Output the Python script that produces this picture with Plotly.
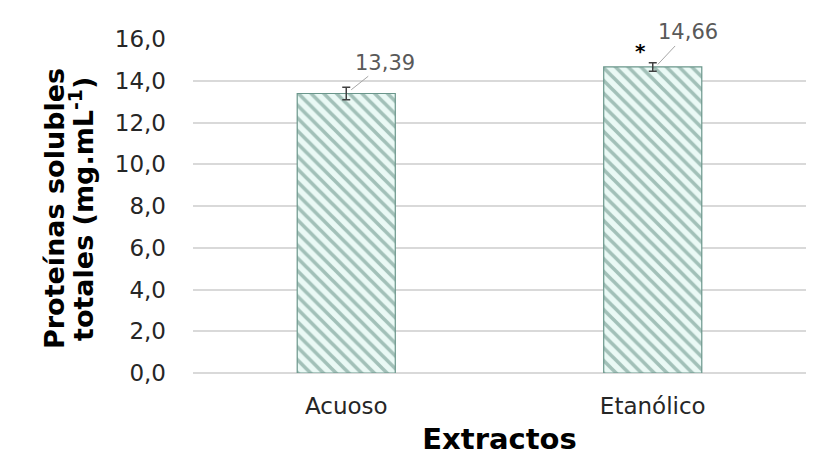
import plotly.graph_objects as go

categories = ["Acuoso", "Etanólico"]
values = [13.39, 14.66]
errors = [0.30, 0.20]
value_labels = ["13,39", "14,66"]
significance = ["", "*"]
y_ticks = [0, 2, 4, 6, 8, 10, 12, 14, 16]
y_title_lines = ["Proteínas solubles", "totales (mg.mL<sup>-1</sup>)"]

FONT = "DejaVu Sans"
fig = go.Figure()
fig.add_trace(go.Bar(
    x=categories, y=values,
    width=0.32,
    marker=dict(
        color="#eaf9f5",
        line=dict(color="#6a968b", width=1.2),
        pattern=dict(shape="\\", size=9, solidity=0.4, fgcolor="#5a887c", bgcolor="#eaf9f5"),
    ),
    error_y=dict(type="data", array=errors, visible=True, color="#404040", thickness=1.5, width=4),
    showlegend=False,
))

label_offsets = [(34, -27), (30, -32)]
for cat, v, e, lab, (ax, ay) in zip(categories, values, errors, value_labels, label_offsets):
    fig.add_annotation(
        x=cat, y=v + e * 0.6, xref="x", yref="y",
        text=lab, showarrow=True, arrowhead=0, arrowwidth=1, arrowcolor="#a6a6a6",
        ax=ax, ay=ay, xshift=5,
        font=dict(family=FONT, size=21, color="#595959"),
    )
for cat, v, s in zip(categories, values, significance):
    if s:
        fig.add_annotation(
            x=cat, y=v, xref="x", yref="y", text=s, showarrow=False,
            xshift=-12, yshift=16,
            font=dict(family=FONT, size=20, color="#000000", weight="bold"),
        )

for line, xs in zip(y_title_lines, [-139, -112]):
    fig.add_annotation(
        xref="paper", yref="paper", x=0, y=0.5, xshift=xs, yshift=-3,
        text=line, textangle=-90, showarrow=False, xanchor="center", yanchor="middle",
        font=dict(family=FONT, size=27, color="#000000", weight="bold"),
    )

fig.update_layout(
    width=818, height=457,
    margin=dict(l=193, r=12, t=39, b=84),
    paper_bgcolor="white", plot_bgcolor="white",
    separators=",.",
    bargap=0.68,
    font=dict(family=FONT, color="#262626"),
    xaxis=dict(
        automargin=False,
        showgrid=False, showline=False, zeroline=False,
        tickfont=dict(family=FONT, size=23, color="#262626"),
        ticklabelstandoff=17,
        title=dict(text="<b>Extractos</b>", font=dict(family=FONT, size=29, color="#000000"), standoff=10),
    ),
    yaxis=dict(
        automargin=False,
        range=[0, 16], tickvals=y_ticks, tickformat=".1f",
        showgrid=True, gridcolor="#d9d9d9", gridwidth=1.5,
        zeroline=True, zerolinecolor="#d9d9d9", zerolinewidth=1.5,
        showline=False,
        tickfont=dict(family=FONT, size=23, color="#262626"),
        ticklabelstandoff=26,
    ),
)

fig.write_html("out.html")
